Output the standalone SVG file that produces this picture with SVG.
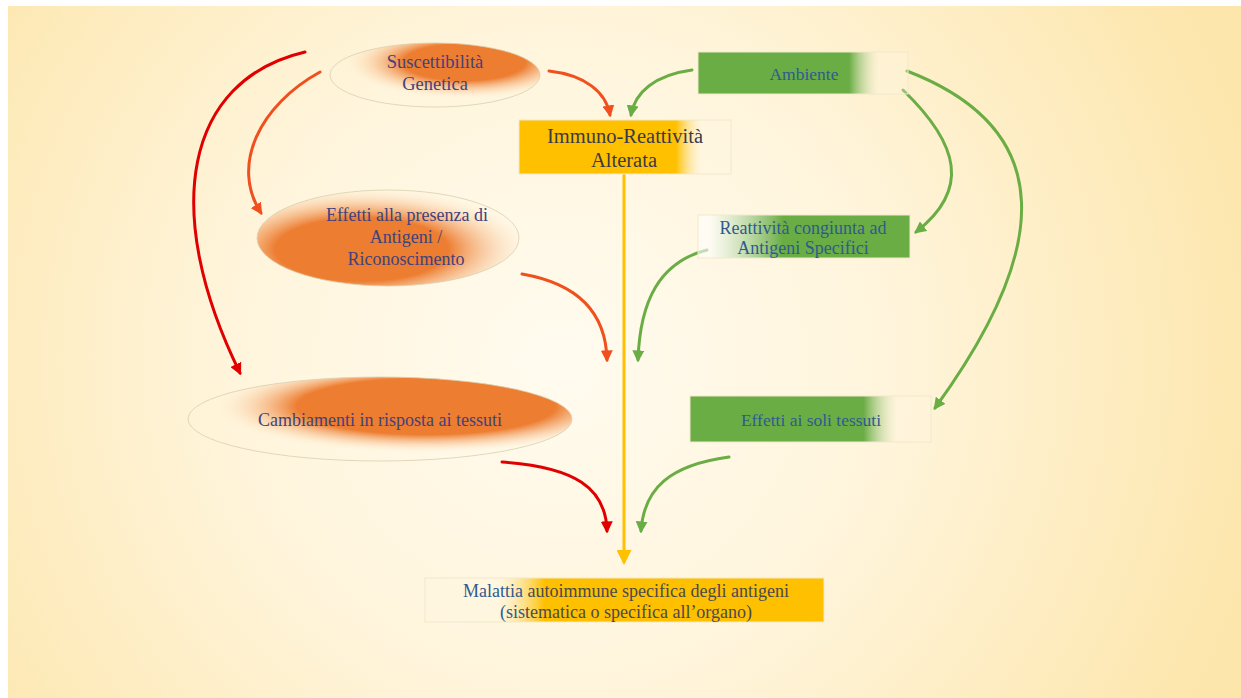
<svg xmlns="http://www.w3.org/2000/svg" width="1241" height="698" viewBox="0 0 1241 698">
<defs>
<radialGradient id="bg" cx="560" cy="360" r="720" gradientUnits="userSpaceOnUse">
<stop offset="0" stop-color="#FFFBEF"/>
<stop offset="0.45" stop-color="#FFF5DC"/>
<stop offset="1" stop-color="#FDE6AC"/>
</radialGradient>
<radialGradient id="e1" cx="0.64" cy="0.3" r="0.58">
<stop offset="0.5" stop-color="#ED7D31"/>
<stop offset="1" stop-color="#FFF4DA" stop-opacity="0"/>
</radialGradient>
<radialGradient id="e2" cx="0.4" cy="0.62" r="0.66">
<stop offset="0.5" stop-color="#ED7D31"/>
<stop offset="1" stop-color="#FFF4DA" stop-opacity="0"/>
</radialGradient>
<radialGradient id="e3" cx="0.62" cy="0.35" r="0.56">
<stop offset="0.6" stop-color="#ED7D31"/>
<stop offset="1" stop-color="#FFF4DA" stop-opacity="0"/>
</radialGradient>
<linearGradient id="gYr" x1="0" y1="0" x2="1" y2="0">
<stop offset="0.74" stop-color="#FFC000"/>
<stop offset="0.86" stop-color="#FFF6E0" stop-opacity="0.3"/>
</linearGradient>
<linearGradient id="gYl" x1="0" y1="0" x2="1" y2="0">
<stop offset="0.18" stop-color="#FFF6E0" stop-opacity="0.3"/>
<stop offset="0.3" stop-color="#FFC000"/>
</linearGradient>
<linearGradient id="gGr" x1="0" y1="0" x2="1" y2="0">
<stop offset="0.72" stop-color="#6AAD45"/>
<stop offset="0.86" stop-color="#FFF6E0" stop-opacity="0.3"/>
</linearGradient>
<linearGradient id="gGl" x1="0" y1="0" x2="1" y2="0">
<stop offset="0.05" stop-color="#FFFFFF" stop-opacity="0.6"/>
<stop offset="0.4" stop-color="#6AAD45"/>
</linearGradient>
<marker id="mRed" viewBox="0 0 10 10" refX="8" refY="5" markerWidth="4" markerHeight="4" orient="auto"><path d="M0,0 L10,5 L0,10 z" fill="#E00000"/></marker>
<marker id="mOr" viewBox="0 0 10 10" refX="8" refY="5" markerWidth="4" markerHeight="4" orient="auto"><path d="M0,0 L10,5 L0,10 z" fill="#F0501E"/></marker>
<marker id="mGr" viewBox="0 0 10 10" refX="8" refY="5" markerWidth="4" markerHeight="4" orient="auto"><path d="M0,0 L10,5 L0,10 z" fill="#6AAD45"/></marker>
<marker id="mYe" viewBox="0 0 10 10" refX="8" refY="5" markerWidth="5" markerHeight="5" orient="auto"><path d="M0,0 L10,5 L0,10 z" fill="#FFC000"/></marker>
</defs>
<style>
.t{font-family:"Liberation Serif","Times New Roman",serif;text-anchor:middle}
.ep{fill:#42427A}
.bl{fill:#2F5A8F}
.ol{stroke:#D8CFAE;stroke-width:0.8}
.bx{stroke:#F2E8CC;stroke-width:1}
.c{fill:none;stroke-width:3;stroke-linecap:round}
</style>
<rect x="0" y="0" width="1241" height="698" fill="#FFFFFF"/>
<rect x="8" y="6" width="1233" height="692" fill="url(#bg)"/>

<g id="connectors">
<path class="c" d="M305,52 C185,80 160,210 240,373" stroke="#E00000" marker-end="url(#mRed)"/>
<path class="c" d="M320,72 C260,105 230,165 261,213" stroke="#F0501E" marker-end="url(#mOr)"/>
<path class="c" d="M549,71 C585,75 606,92 610,115" stroke="#F0501E" marker-end="url(#mOr)"/>
<path class="c" d="M692,70 C655,75 635,92 631,115" stroke="#6AAD45" marker-end="url(#mGr)"/>
<path class="c" d="M903,90 C960,145 970,190 916,232" stroke="#6AAD45" marker-end="url(#mGr)"/>
<path class="c" d="M907,71 C1060,130 1050,250 935,408" stroke="#6AAD45" marker-end="url(#mGr)"/>
<path class="c" d="M624,175 L624,562" stroke="#FFC000" marker-end="url(#mYe)"/>
<path class="c" d="M522,274 C580,284 606,315 607,360" stroke="#F0501E" marker-end="url(#mOr)"/>
<path class="c" d="M707,250 C660,262 640,300 638,360" stroke="#6AAD45" marker-end="url(#mGr)"/>
<path class="c" d="M502,462 C575,467 606,488 607,531" stroke="#E00000" marker-end="url(#mRed)"/>
<path class="c" d="M729,457 C670,465 644,488 641,531" stroke="#6AAD45" marker-end="url(#mGr)"/>
</g>

<g id="n-suscettibilita">
<ellipse cx="435" cy="75" rx="105" ry="32" fill="url(#e1)" class="ol"/>
<text class="t ep" x="435" y="68" font-size="18.5">Suscettibilità</text>
<text class="t ep" x="435" y="90" font-size="18.5">Genetica</text>
</g>

<g id="n-immuno">
<rect x="519" y="120" width="212" height="54" fill="url(#gYr)" class="bx"/>
<text class="t" x="625" y="143" font-size="20.5" fill="#3A3A4A">Immuno-Reattività</text>
<text class="t" x="624" y="167" font-size="20.5" fill="#3A3A4A">Alterata</text>
</g>

<g id="n-ambiente">
<rect x="698" y="52" width="210" height="42" fill="url(#gGr)" class="bx"/>
<text class="t bl" x="804" y="80" font-size="17.5">Ambiente</text>
</g>

<g id="n-effetti-antigeni">
<ellipse cx="388" cy="238" rx="131" ry="48" fill="url(#e2)" class="ol"/>
<text class="t ep" x="407" y="221" font-size="18">Effetti alla presenza di</text>
<text class="t ep" x="406" y="243" font-size="18">Antigeni /</text>
<text class="t ep" x="406" y="265" font-size="18">Riconoscimento</text>
</g>

<g id="n-reattivita">
<rect x="698" y="215" width="212" height="43" fill="url(#gGl)" class="bx"/>
<text class="t bl" x="803" y="234" font-size="18">Reattività congiunta ad</text>
<text class="t bl" x="803" y="254" font-size="18">Antigeni Specifici</text>
</g>

<g id="n-cambiamenti">
<ellipse cx="380" cy="419" rx="192" ry="42" fill="url(#e3)" class="ol"/>
<text class="t ep" x="380" y="426" font-size="18">Cambiamenti in risposta ai tessuti</text>
</g>

<g id="n-effetti-tessuti">
<rect x="690" y="396" width="241" height="46" fill="url(#gGr)" class="bx"/>
<text class="t bl" x="811" y="426" font-size="17.5">Effetti ai soli tessuti</text>
</g>

<g id="n-malattia">
<rect x="425" y="578" width="399" height="44" fill="url(#gYl)" class="bx"/>
<text class="t" x="626" y="597" font-size="18" fill="#4A4A50"><tspan fill="#2F5A8F">Malattia</tspan> autoimmune specifica degli antigeni</text>
<text class="t" x="626" y="618" font-size="18" fill="#4A4A50"><tspan fill="#2F5A8F">(sis</tspan>tematica o specifica all’organo)</text>
</g>
</svg>
